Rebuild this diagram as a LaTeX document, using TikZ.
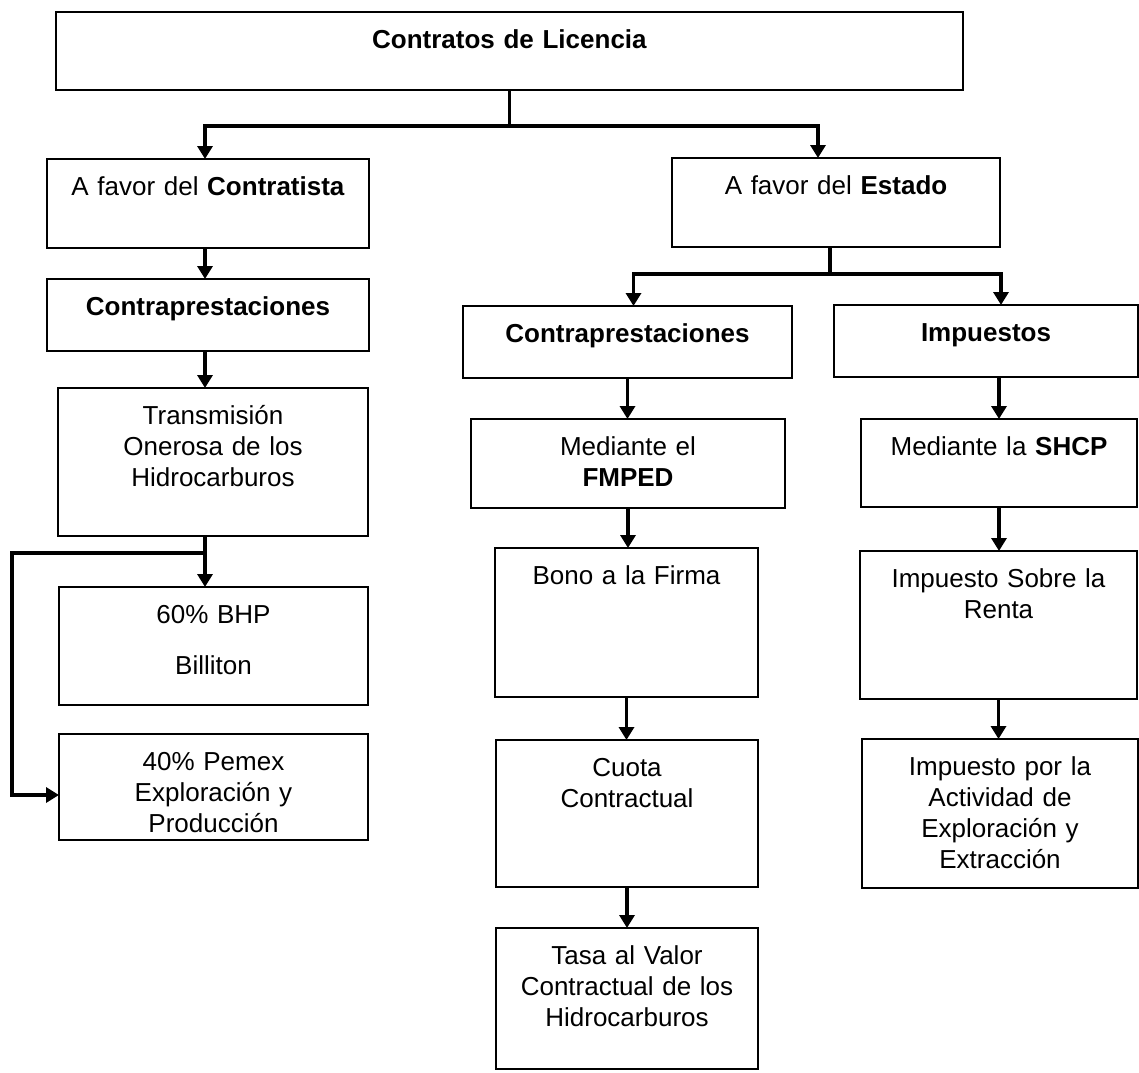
\documentclass[tikz,border=0pt]{standalone}
\usepackage{fontspec}
\setmainfont{Liberation Sans}
\usetikzlibrary{arrows.meta}

\begin{document}
\begin{tikzpicture}[x=0.5pt,y=-0.5pt,
	caja/.style={draw,line width=1pt,anchor=north west,inner sep=0pt,outer sep=0pt,
		align=center,text height=18pt,font=\fontsize{13}{15.5}\selectfont},
	flecha/.style={-{Triangle[width=7.5pt,length=6.5pt]},line width=1.8pt}]
	\useasboundingbox (0,0) rectangle (1139,1072);
	\node [caja,text width=453.5pt,text depth=21pt] (licencia) at (56,12) {\textbf{Contratos de Licencia}};
	\node [caja,text width=161pt,text depth=26.5pt] (contratista) at (47,159) {A favor del \textbf{Contratista}};
	\node [caja,text width=161pt,text depth=18pt] (contraL) at (47,279) {\textbf{Contraprestaciones}};
	\node [caja,text width=155pt,text depth=56pt] (transmision) at (58,388) {Transmisión\\Onerosa de los\\Hidrocarburos};
	\node [caja,text width=154.5pt,text depth=41pt] (bhp) at (59,587) {60\% BHP\\[10pt]Billiton};
	\node [caja,text width=154.5pt,text depth=35pt] (pemex) at (59,734) {40\% Pemex\\Exploración y\\Producción};
	\node [caja,text width=164pt,text depth=26.5pt] (estado) at (672,158) {A favor del \textbf{Estado}};
	\node [caja,text width=164.5pt,text depth=18pt] (contraR) at (463,306) {\textbf{Contraprestaciones}};
	\node [caja,text width=152pt,text depth=18pt] (impuestos) at (834,305) {\textbf{Impuestos}};
	\node [caja,text width=157pt,text depth=26.5pt] (fmped) at (471,419) {Mediante el\\\textbf{FMPED}};
	\node [caja,text width=138pt,text depth=26pt] (shcp) at (861,419) {Mediante la \textbf{SHCP}};
	\node [caja,text width=131.5pt,text depth=56.5pt] (bono) at (495,548) {Bono a la Firma};
	\node [caja,text width=138.5pt,text depth=56pt] (isr) at (860,551) {Impuesto Sobre la\\Renta};
	\node [caja,text width=131pt,text depth=55.5pt] (cuota) at (496,740) {Cuota\\Contractual};
	\node [caja,text width=138pt,text depth=56.5pt] (iaee) at (862,739) {Impuesto por la\\Actividad de\\Exploración y\\Extracción};
	\node [caja,text width=131pt,text depth=52.5pt] (tasa) at (496,928) {Tasa al Valor\\Contractual de los\\Hidrocarburos};
	\coordinate (ejeL) at (205,0);
	\coordinate (codo) at (12,553);
	\draw [flecha] (licencia.south) -- ++(0,36) -| (contratista.north -| ejeL);
	\draw [flecha] (licencia.south) -- ++(0,36) -| ([xshift=-9pt]estado.north);
	\draw [flecha] (contratista.south -| ejeL) -- (contraL.north -| ejeL);
	\draw [flecha] (contraL.south -| ejeL) -- (transmision.north -| ejeL);
	\draw [flecha] (transmision.south -| ejeL) -- (bhp.north -| ejeL);
	\draw [flecha] (transmision.south -| ejeL) |- (codo) |- ([yshift=-4pt]pemex.west);
	\draw [flecha] ([xshift=-3pt]estado.south) -- ++(0,27) -| ([xshift=3pt]contraR.north);
	\draw [flecha] ([xshift=-3pt]estado.south) -- ++(0,27) -| ([xshift=7.5pt]impuestos.north);
	\draw [flecha] (contraR.south) -- (contraR.south |- fmped.north);
	\draw [flecha] (fmped.south) -- (fmped.south |- bono.north);
	\draw [flecha] (bono.south) -- (bono.south |- cuota.north);
	\draw [flecha] (cuota.south) -- (cuota.south |- tasa.north);
	\draw [flecha] (impuestos.south -| shcp.north) -- (shcp.north);
	\draw [flecha] (shcp.south) -- (shcp.south |- isr.north);
	\draw [flecha] (isr.south) -- (isr.south |- iaee.north);
\end{tikzpicture}
\end{document}
